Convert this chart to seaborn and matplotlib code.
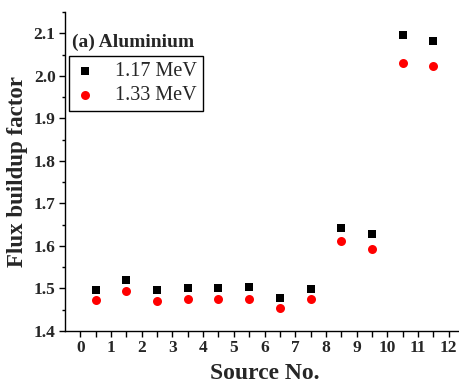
import matplotlib
matplotlib.use("Agg")
import matplotlib.pyplot as plt
from matplotlib.ticker import MultipleLocator
import seaborn as sns
import pandas as pd

# Flux buildup factors for aluminium, per source position
source_pos = [0.5, 1.5, 2.5, 3.5, 4.5, 5.5, 6.5, 7.5, 8.5, 9.5, 10.5, 11.5]
b_117 = [1.497, 1.520, 1.497, 1.500, 1.502, 1.503, 1.478, 1.499, 1.642, 1.627, 2.095, 2.082]
b_133 = [1.472, 1.494, 1.471, 1.475, 1.475, 1.475, 1.453, 1.475, 1.612, 1.593, 2.030, 2.024]
series_names = ["1.17 MeV", "1.33 MeV"]
x_ticks = list(range(0, 13))
y_ticks = [1.4, 1.5, 1.6, 1.7, 1.8, 1.9, 2.0, 2.1]

sns.set_theme(style="ticks")
plt.rcParams["font.family"] = ["Liberation Serif", "DejaVu Serif"]
plt.rcParams["axes.linewidth"] = 1.0

df = pd.DataFrame({
    "Source No.": source_pos * 2,
    "B": b_117 + b_133,
    "Energy": [series_names[0]] * len(b_117) + [series_names[1]] * len(b_133),
})

fig = plt.figure(figsize=(4.59, 3.85), dpi=100)
ax = fig.add_axes([65 / 459, 54 / 385, 399 / 459, 319 / 385])

sns.scatterplot(data=df[df["Energy"] == series_names[0]], x="Source No.", y="B",
                color="black", marker="s", s=30, linewidth=0, label=series_names[0], ax=ax)
sns.scatterplot(data=df[df["Energy"] == series_names[1]], x="Source No.", y="B",
                color="red", marker="o", s=42, linewidth=0, label=series_names[1], ax=ax)

ax.set_xlim(-0.5, 12.5)
ax.set_ylim(1.4, 2.15)
ax.set_xticks(x_ticks)
ax.set_xticklabels([str(t) for t in x_ticks])
ax.set_xticks(source_pos, minor=True)
ax.set_yticks(y_ticks)
ax.yaxis.set_minor_locator(MultipleLocator(0.05))

for s in ["top", "right"]:
    ax.spines[s].set_visible(False)
for s in ["left", "bottom"]:
    ax.spines[s].set_color("black")

ax.tick_params(which="major", direction="out", length=4.3, width=1, color="black",
               labelsize=12.5, pad=2.5)
ax.tick_params(axis="x", which="minor", direction="out", length=4.3, width=1, color="black")
ax.tick_params(axis="y", which="minor", direction="out", length=2.3, width=1, color="black")
for lab in ax.get_xticklabels() + ax.get_yticklabels():
    lab.set_fontweight("bold")

ax.set_xlabel("Source No.", fontsize=17, fontweight="bold", labelpad=5)
ax.set_ylabel("Flux buildup factor", fontsize=16.5, fontweight="bold", labelpad=4)

ax.text(0.018, 0.905, "(a) Aluminium", transform=ax.transAxes, fontsize=14,
        fontweight="bold", ha="left", va="center")

leg = ax.legend(loc="upper left", bbox_to_anchor=(0.01, 0.862), fontsize=14.5,
                frameon=True, fancybox=False, edgecolor="black", framealpha=1,
                handlelength=1.0, handletextpad=1.0, borderpad=0.3,
                labelspacing=0.25, borderaxespad=0)
leg.get_frame().set_linewidth(1.0)

fig.savefig("out.png", dpi=100)
